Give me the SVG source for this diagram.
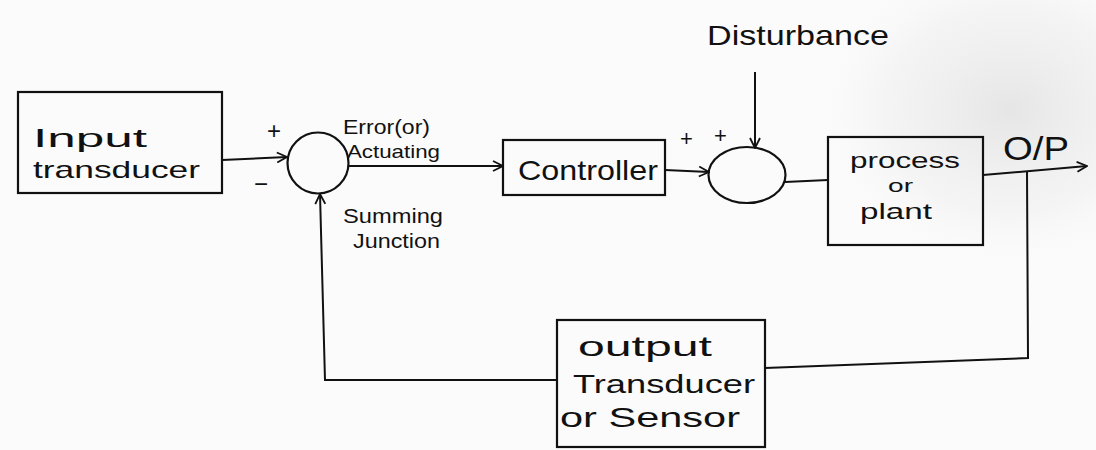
<svg xmlns="http://www.w3.org/2000/svg" width="1096" height="450" viewBox="0 0 1096 450">
<defs>
<marker id="arr" viewBox="0 0 12 12" refX="11" refY="6" markerWidth="12" markerHeight="12" markerUnits="userSpaceOnUse" orient="auto">
<path d="M1,1 L11,6 L1,11" fill="none" stroke="#111" stroke-width="1.8"/>
</marker>
<radialGradient id="shade" cx="0.5" cy="0.5" r="0.5">
<stop offset="0" stop-color="#d4d4d4" stop-opacity="0.55"/>
<stop offset="0.6" stop-color="#e4e4e4" stop-opacity="0.3"/>
<stop offset="1" stop-color="#ffffff" stop-opacity="0"/>
</radialGradient>
</defs>
<style>
.box{fill:none;stroke:#111;stroke-width:2.2}
.ln{fill:none;stroke:#111;stroke-width:2}
.t{font-family:"Liberation Sans","DejaVu Sans",sans-serif;fill:#111}
</style>
<rect width="1096" height="450" fill="#fbfbfb"/>
<ellipse cx="1010" cy="110" rx="210" ry="170" fill="url(#shade)"/>
<g id="input-transducer">
<rect class="box" x="18" y="92" width="204" height="101"/>
<text class="t" x="33" y="147" font-size="25" textLength="114" lengthAdjust="spacingAndGlyphs">Input</text>
<text class="t" x="33" y="178" font-size="24" textLength="167" lengthAdjust="spacingAndGlyphs">transducer</text>
</g>
<g id="summing-junction">
<circle class="box" cx="318" cy="163" r="30.5"/>
<text class="t" x="267" y="139" font-size="24">+</text>
<text class="t" x="254" y="192" font-size="24">−</text>
<text class="t" x="343" y="134" font-size="20" textLength="87" lengthAdjust="spacingAndGlyphs">Error(or)</text>
<text class="t" x="347" y="158" font-size="19" textLength="93" lengthAdjust="spacingAndGlyphs">Actuating</text>
<text class="t" x="343" y="223" font-size="21" textLength="100" lengthAdjust="spacingAndGlyphs">Summing</text>
<text class="t" x="353" y="248" font-size="20" textLength="87" lengthAdjust="spacingAndGlyphs">Junction</text>
</g>
<g id="controller">
<rect class="box" x="503" y="140" width="162" height="55"/>
<text class="t" x="518" y="180" font-size="28" textLength="140" lengthAdjust="spacingAndGlyphs">Controller</text>
</g>
<g id="summing-point-2">
<ellipse class="box" cx="747" cy="175" rx="38.5" ry="28"/>
<text class="t" x="680" y="146" font-size="22">+</text>
<text class="t" x="714" y="143" font-size="22">+</text>
</g>
<g id="disturbance">
<text class="t" x="707" y="45" font-size="28" textLength="182" lengthAdjust="spacingAndGlyphs">Disturbance</text>
</g>
<g id="process-plant">
<rect class="box" x="828" y="137" width="155" height="108"/>
<text class="t" x="850" y="168" font-size="22" textLength="110" lengthAdjust="spacingAndGlyphs">process</text>
<text class="t" x="888" y="192" font-size="19" textLength="25" lengthAdjust="spacingAndGlyphs">or</text>
<text class="t" x="860" y="219" font-size="22" textLength="72" lengthAdjust="spacingAndGlyphs">plant</text>
</g>
<g id="output-label">
<text class="t" x="1003" y="160" font-size="34" textLength="66" lengthAdjust="spacingAndGlyphs">O/P</text>
</g>
<g id="output-transducer">
<rect class="box" x="557" y="320" width="208" height="127"/>
<text class="t" x="578" y="356" font-size="28" textLength="134" lengthAdjust="spacingAndGlyphs">output</text>
<text class="t" x="573" y="393" font-size="26" textLength="182" lengthAdjust="spacingAndGlyphs">Transducer</text>
<text class="t" x="560" y="427" font-size="27" textLength="180" lengthAdjust="spacingAndGlyphs">or Sensor</text>
</g>
<g id="connectors">
<path class="ln" d="M222,160 L287,157" marker-end="url(#arr)"/>
<path class="ln" d="M349,166 L503,166" marker-end="url(#arr)"/>
<path class="ln" d="M665,170 L709,172" marker-end="url(#arr)"/>
<path class="ln" d="M755,72 L755,148" marker-end="url(#arr)"/>
<path class="ln" d="M785,182 L828,180"/>
<path class="ln" d="M983,175 L1087,166" marker-end="url(#arr)"/>
<path class="ln" d="M1027,172 L1028,358 L765,368"/>
<path class="ln" d="M557,380 L325,380 L320,194" marker-end="url(#arr)"/>
</g>
</svg>
